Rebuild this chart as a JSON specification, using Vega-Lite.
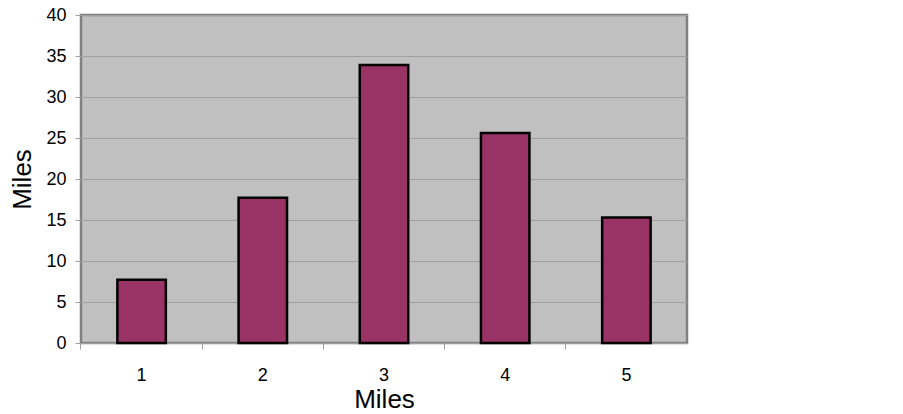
{
  "$schema": "https://vega.github.io/schema/vega-lite/v6.json",
  "width": 606,
  "height": 328,
  "autosize": {"type": "none"},
  "padding": {"left": 81, "top": 15, "right": 216, "bottom": 71},
  "background": "white",
  "config": {
    "view": {"fill": "#C0C0C0", "stroke": "#808080", "strokeWidth": 2.5},
    "font": "Liberation Sans"
  },
  "data": {
    "values": [
      {"x": "1", "miles": 7.7},
      {"x": "2", "miles": 17.7},
      {"x": "3", "miles": 33.9},
      {"x": "4", "miles": 25.6},
      {"x": "5", "miles": 15.3}
    ]
  },
  "layer": [
    {
      "mark": {"type": "bar", "color": "#993366", "stroke": "#000000", "strokeWidth": 2.5},
      "encoding": {
        "x": {
          "field": "x", "type": "ordinal",
          "scale": {"paddingInner": 0.6, "paddingOuter": 0.3},
          "axis": {
            "orient": "bottom", "title": "Miles", "labelAngle": 0,
            "labelFontSize": 18, "labelColor": "#000000", "labelPadding": 23,
            "ticks": false, "domain": false, "grid": false,
            "titleFontSize": 26, "titleFontWeight": "normal", "titleColor": "#000000",
            "titlePadding": 2
          }
        },
        "y": {
          "field": "miles", "type": "quantitative",
          "scale": {"domain": [0, 40], "nice": false},
          "axis": {
            "title": "Miles", "values": [0, 5, 10, 15, 20, 25, 30, 35, 40],
            "labelFontSize": 18, "labelColor": "#000000", "labelPadding": 9,
            "tickColor": "#A0A0A0", "tickSize": 6, "tickWidth": 1,
            "domain": false, "grid": true, "gridColor": "#A0A0A0", "gridWidth": 1,
            "titleFontSize": 26, "titleFontWeight": "normal", "titleColor": "#000000",
            "titlePadding": 10
          }
        }
      }
    },
    {
      "mark": {"type": "bar", "opacity": 0},
      "encoding": {
        "x": {
          "field": "x", "type": "ordinal",
          "axis": {
            "orient": "bottom", "title": null, "labels": false, "bandPosition": -0.75,
            "ticks": true, "tickColor": "#A0A0A0", "tickSize": 6, "tickWidth": 1,
            "domain": false, "grid": false
          }
        },
        "y": {"field": "miles", "type": "quantitative"}
      }
    }
  ],
  "resolve": {"axis": {"x": "independent"}}
}
